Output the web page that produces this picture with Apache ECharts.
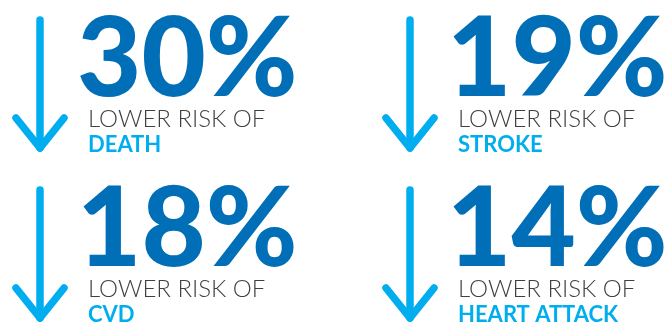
<!DOCTYPE html>
<html lang="en">
<head>
  <meta charset="UTF-8">
  <title>risk</title>
  <style>
    html, body { margin: 0; padding: 0; background: #fff; }
    #main { width: 670px; height: 324px; }
  </style>
</head>
<body>
  <div id="main"></div>
  <script src="https://cdn.jsdelivr.net/npm/echarts@6/dist/echarts.min.js"></script>
  <script>
    // values
    var percents = [30, 19, 18, 14];
    var outcomes = ['DEATH', 'STROKE', 'CVD', 'HEART ATTACK'];
    var cols = [0, 1, 0, 1];
    var rows = [0, 0, 1, 1];
    var leadText = 'LOWER RISK OF';

    var darkBlue = '#006fb7';
    var lightBlue = '#00aeef';
    var grey = '#3f3f3f';

    var myChart = echarts.init(document.getElementById('main'));

    function renderItem(params, api) {
      var p = api.coord([api.value(0), api.value(1)]);
      var x = p[0], y = p[1];
      var idx = params.dataIndex;
      var arrowLen = 128;
      return {
        type: 'group',
        children: [
          {
            type: 'polyline',
            shape: { points: [[x, y], [x, y + arrowLen]] },
            style: { stroke: lightBlue, lineWidth: 7.5, lineCap: 'round', fill: null }
          },
          {
            type: 'polyline',
            shape: { points: [[x - 24, y + arrowLen - 30], [x, y + arrowLen], [x + 24, y + arrowLen - 30]] },
            style: { stroke: lightBlue, lineWidth: 7.5, lineCap: 'round', lineJoin: 'round', fill: null }
          },
          {
            type: 'text',
            x: x + 37,
            y: y + 40,
            style: {
              text: api.value(2) + '%',
              font: '900 111px Lato',
              fill: darkBlue,
              align: 'left',
              verticalAlign: 'middle'
            }
          },
          {
            type: 'text',
            x: x + 48,
            y: y + 99,
            style: {
              text: leadText,
              font: '300 24px Lato',
              fill: grey,
              align: 'left',
              verticalAlign: 'middle'
            }
          },
          {
            type: 'text',
            x: x + 48,
            y: y + 125,
            style: {
              text: outcomes[idx],
              font: 'bold 22px Lato',
              fill: lightBlue,
              align: 'left',
              verticalAlign: 'middle'
            }
          }
        ]
      };
    }

    var option = {
      animation: false,
      grid: { left: 40, width: 370, top: 20, height: 170 },
      xAxis: { type: 'value', min: 0, max: 1, show: false },
      yAxis: { type: 'value', min: 0, max: 1, inverse: true, show: false },
      series: [{
        type: 'custom',
        clip: false,
        renderItem: renderItem,
        data: percents.map(function (v, i) {
          return [cols[i], rows[i], v];
        })
      }]
    };
    myChart.setOption(option);
  </script>
</body>
</html>
